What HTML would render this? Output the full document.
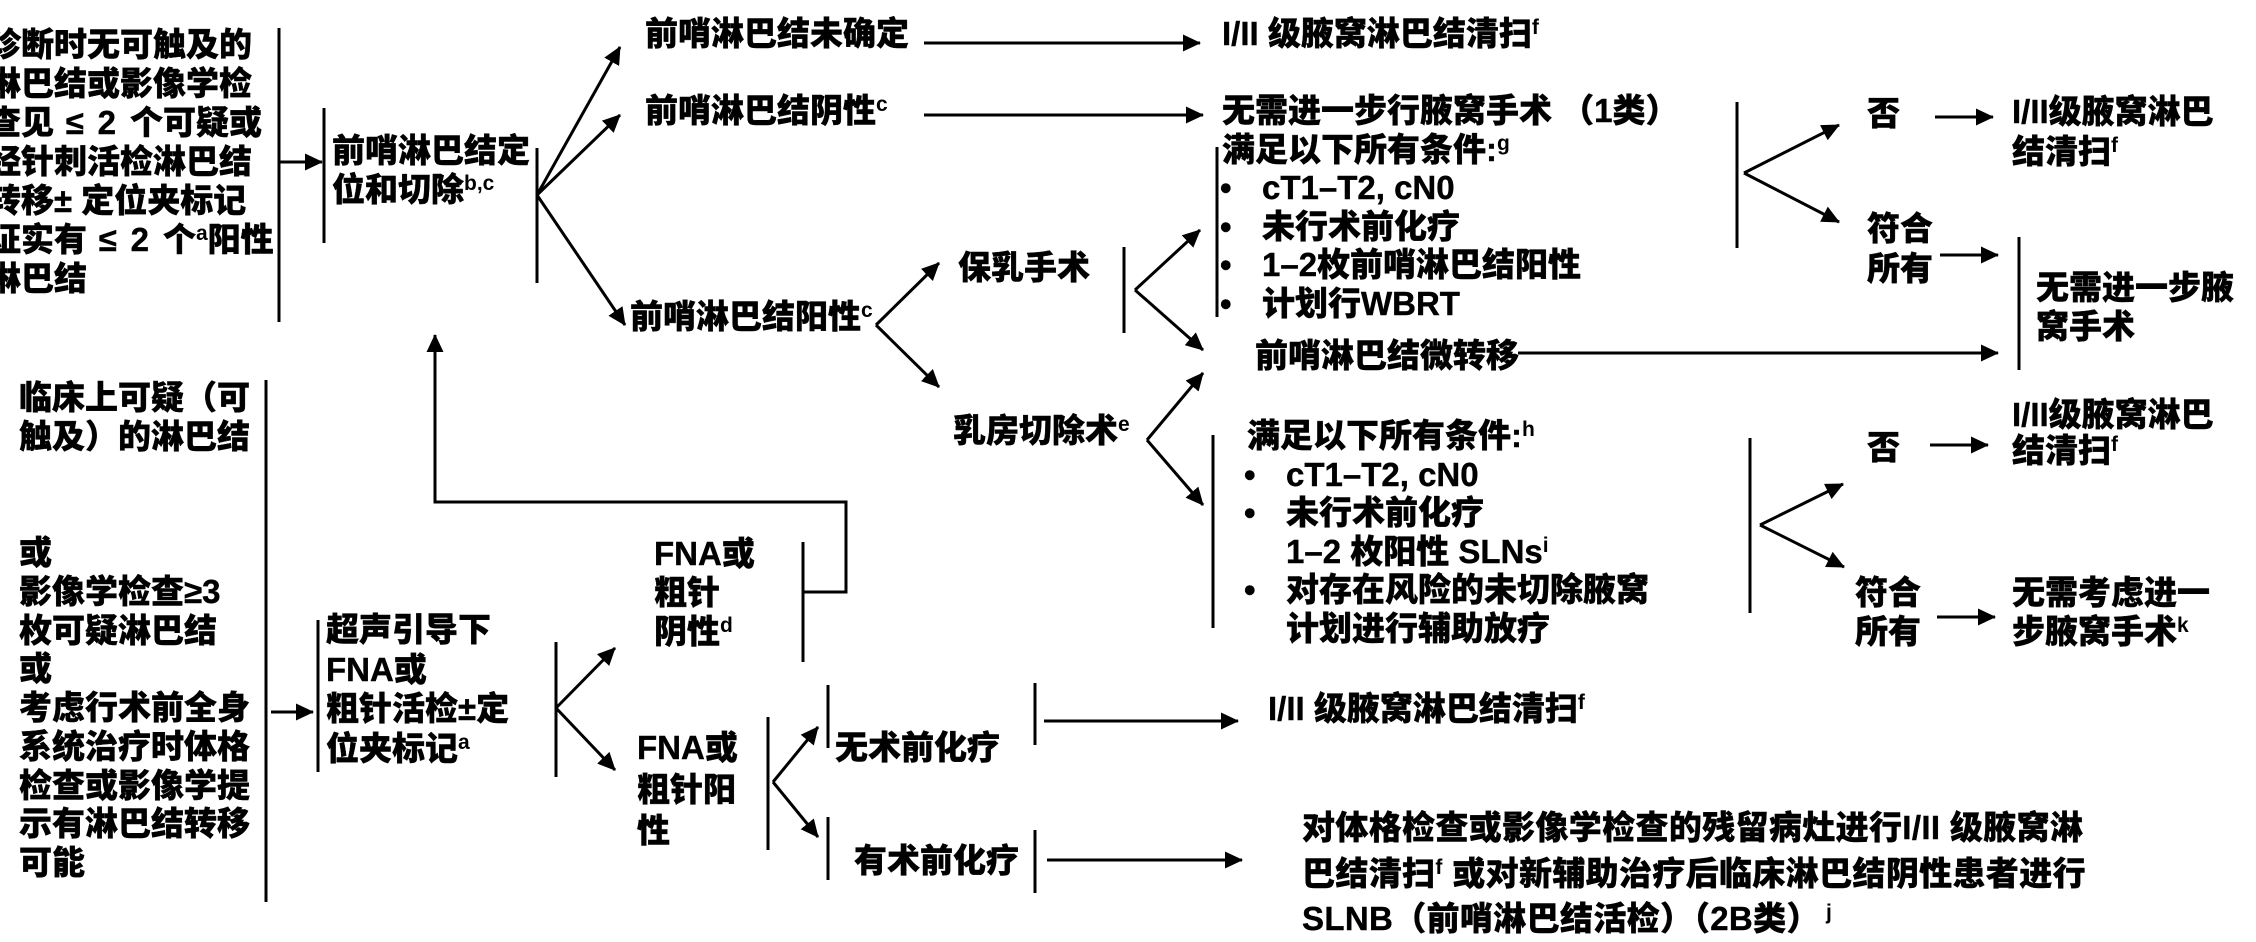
<!DOCTYPE html>
<html><head><meta charset="utf-8">
<style>
html,body{margin:0;padding:0}
body{width:2256px;height:930px;background:#fff;position:relative;overflow:hidden}
.t{position:absolute;font-family:"Liberation Sans","Noto Sans CJK SC",sans-serif;font-weight:900;font-size:33px;line-height:38.6px;white-space:pre;color:#000;-webkit-text-stroke:0.4px #000}
.s{font-size:21px;vertical-align:11px;line-height:0;-webkit-text-stroke:0}
.b{display:inline-block;width:42px;margin-left:-2px}
.w{letter-spacing:2.4px}
svg{position:absolute;left:0;top:0}
</style></head>
<body>
<svg width="2256" height="930" viewBox="0 0 2256 930">
<defs>
<marker id="ah" markerWidth="18" markerHeight="17" refX="17" refY="8.5" orient="auto" markerUnits="userSpaceOnUse"><path d="M0,0 L18,8.5 L0,17 Z" fill="#000"/></marker>
</defs>
<g stroke="#000" stroke-width="3" fill="none">
<line x1="279" y1="28" x2="279" y2="322"/>
<line x1="324" y1="108" x2="324" y2="243"/>
<line x1="537" y1="148" x2="537" y2="283"/>
<line x1="1217" y1="147" x2="1217" y2="317"/>
<line x1="1124" y1="247" x2="1124" y2="333"/>
<line x1="1213" y1="435" x2="1213" y2="628"/>
<line x1="1737" y1="102" x2="1737" y2="248"/>
<line x1="2019" y1="237" x2="2019" y2="370"/>
<line x1="1750" y1="438" x2="1750" y2="613"/>
<line x1="266" y1="380" x2="266" y2="902"/>
<line x1="318" y1="620" x2="318" y2="772"/>
<line x1="556" y1="642" x2="556" y2="777"/>
<line x1="803" y1="542" x2="803" y2="662"/>
<line x1="768" y1="717" x2="768" y2="850"/>
<line x1="828" y1="685" x2="828" y2="748"/>
<line x1="828" y1="817" x2="828" y2="880"/>
<line x1="1035" y1="683" x2="1035" y2="745"/>
<line x1="1035" y1="830" x2="1035" y2="893"/>
</g>
<g stroke="#000" stroke-width="3" fill="none" marker-end="url(#ah)">
<line x1="279" y1="162" x2="322" y2="162"/>
<line x1="537" y1="195" x2="620" y2="47"/>
<line x1="537" y1="195" x2="620" y2="115"/>
<line x1="537" y1="195" x2="625" y2="325"/>
<line x1="924" y1="43" x2="1200" y2="43"/>
<line x1="924" y1="115" x2="1203" y2="115"/>
<line x1="876" y1="325" x2="939" y2="263"/>
<line x1="876" y1="325" x2="939" y2="387"/>
<line x1="1135" y1="290" x2="1200" y2="230"/>
<line x1="1135" y1="290" x2="1203" y2="350"/>
<line x1="1147" y1="440" x2="1203" y2="373"/>
<line x1="1147" y1="440" x2="1203" y2="505"/>
<line x1="1518" y1="353" x2="1998" y2="353"/>
<line x1="1744" y1="173" x2="1839" y2="125"/>
<line x1="1744" y1="173" x2="1839" y2="222"/>
<line x1="1935" y1="117" x2="1993" y2="117"/>
<line x1="1940" y1="255" x2="1998" y2="255"/>
<line x1="1930" y1="445" x2="1988" y2="445"/>
<line x1="1760" y1="525" x2="1843" y2="484"/>
<line x1="1760" y1="525" x2="1844" y2="567"/>
<line x1="1937" y1="617" x2="1995" y2="617"/>
<line x1="271" y1="712" x2="313" y2="712"/>
<line x1="556" y1="708" x2="615" y2="648"/>
<line x1="556" y1="708" x2="615" y2="770"/>
<line x1="773" y1="782" x2="818" y2="727"/>
<line x1="773" y1="782" x2="818" y2="837"/>
<line x1="1044" y1="721" x2="1238" y2="721"/>
<line x1="1047" y1="860" x2="1242" y2="860"/>
<polyline points="803,592 846,592 846,502 435,502 435,335"/>
</g>
</svg>

<div class="t" style="left:-12px;top:25px;line-height:39px">诊断时无可触及的
淋巴结或影像学检
查见<span class="w"> ≤ 2 </span>个可疑或
经针刺活检淋巴结
转移± 定位夹标记
证实有<span class="w"> ≤ 2 </span>个<span class="s">a</span>阳性
淋巴结</div>

<div class="t" style="left:19px;top:379px;line-height:38.75px">临床上可疑（可
触及）的淋巴结


或
影像学检查≥3
枚可疑淋巴结
或
考虑行术前全身
系统治疗时体格
检查或影像学提
示有淋巴结转移
可能</div>

<div class="t" style="left:332px;top:132px">前哨淋巴结定
位和切除<span class="s">b,c</span></div>

<div class="t" style="left:645px;top:15px">前哨淋巴结未确定</div>
<div class="t" style="left:645px;top:92px">前哨淋巴结阴性<span class="s">c</span></div>
<div class="t" style="left:630px;top:298px">前哨淋巴结阳性<span class="s">c</span></div>

<div class="t" style="left:1222px;top:15px">I/II 级腋窝淋巴结清扫<span class="s">f</span></div>

<div class="t" style="left:1222px;top:92px">无需进一步行腋窝手术 （1类）
满足以下所有条件:<span class="s">g</span>
<span class="b">•</span>cT1–T2, cN0
<span class="b">•</span>未行术前化疗
<span class="b">•</span>1–2枚前哨淋巴结阳性
<span class="b">•</span>计划行WBRT</div>

<div class="t" style="left:958px;top:249px">保乳手术</div>
<div class="t" style="left:953px;top:412px">乳房切除术<span class="s">e</span></div>
<div class="t" style="left:1255px;top:337px">前哨淋巴结微转移</div>

<div class="t" style="left:1247px;top:417px;line-height:38.5px">满足以下所有条件:<span class="s">h</span>
<span class="b" style="margin-left:-3px">•</span>cT1–T2, cN0
<span class="b" style="margin-left:-3px">•</span>未行术前化疗
<span class="b" style="margin-left:-3px"> </span>1–2 枚阳性 SLNs<span class="s">i</span>
<span class="b" style="margin-left:-3px">•</span>对存在风险的未切除腋窝
<span class="b" style="margin-left:-3px"> </span>计划进行辅助放疗</div>

<div class="t" style="left:654px;top:534px;line-height:39px">FNA或
粗针
阴性<span class="s">d</span></div>

<div class="t" style="left:637px;top:727px;line-height:41.5px">FNA或
粗针阳
性</div>

<div class="t" style="left:326px;top:610px;line-height:39.5px">超声引导下
FNA或
粗针活检±定
位夹标记<span class="s">a</span></div>

<div class="t" style="left:835px;top:729px">无术前化疗</div>
<div class="t" style="left:854px;top:842px">有术前化疗</div>

<div class="t" style="left:1268px;top:690px">I/II 级腋窝淋巴结清扫<span class="s">f</span></div>

<div class="t" style="left:1302px;top:805px;line-height:45.5px;letter-spacing:0.35px">对体格检查或影像学检查的残留病灶进行I/II 级腋窝淋
巴结清扫<span class="s">f</span> 或对新辅助治疗后临床淋巴结阴性患者进行
SLNB（前哨淋巴结活检）（2B类）<span class="s"> j</span></div>

<div class="t" style="left:1867px;top:95px">否</div>
<div class="t" style="left:2012px;top:92px;line-height:40px">I/II级腋窝淋巴
结清扫<span class="s">f</span></div>
<div class="t" style="left:1867px;top:209px;line-height:40px">符合
所有</div>
<div class="t" style="left:2036px;top:269px;line-height:38.5px">无需进一步腋
窝手术</div>

<div class="t" style="left:1867px;top:429px">否</div>
<div class="t" style="left:2012px;top:397px;line-height:36px">I/II级腋窝淋巴
结清扫<span class="s">f</span></div>
<div class="t" style="left:1855px;top:574px;line-height:38.5px">符合
所有</div>
<div class="t" style="left:2012px;top:574px;line-height:38.5px">无需考虑进一
步腋窝手术<span class="s">k</span></div>

</body></html>
